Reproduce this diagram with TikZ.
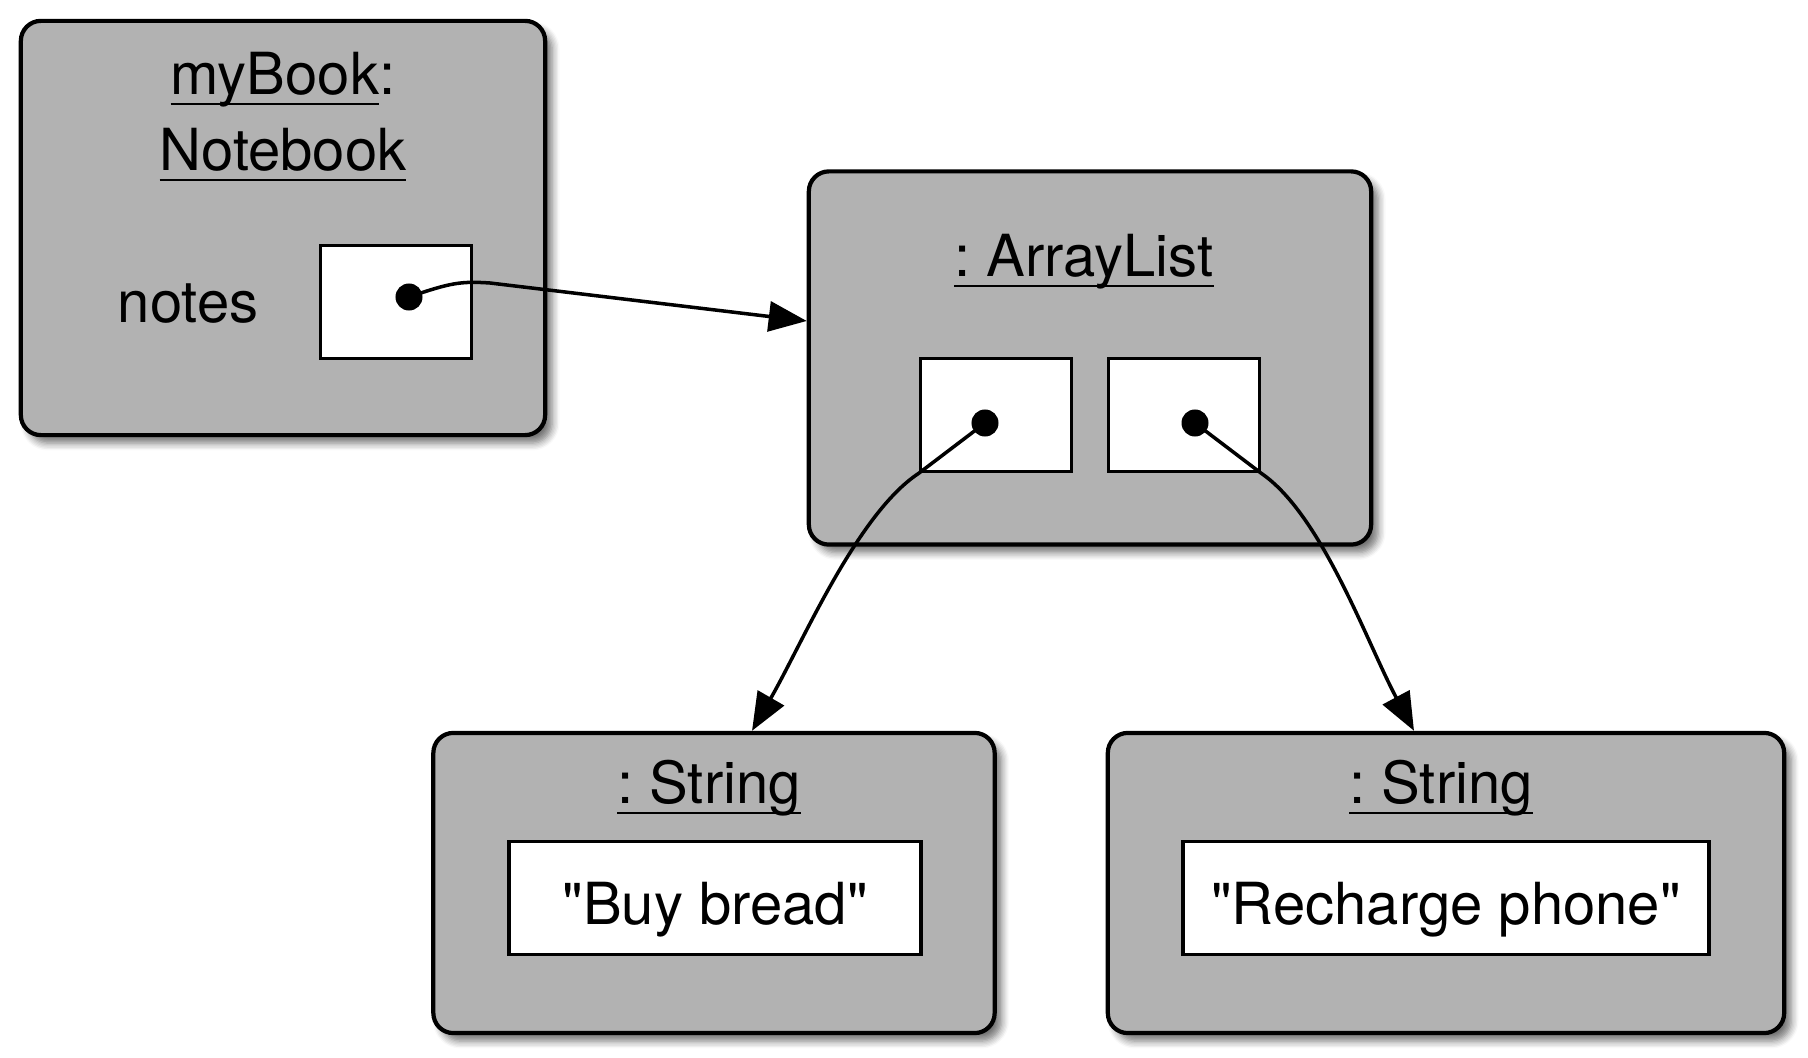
\documentclass[tikz,border=0pt]{standalone}
\usepackage{fontspec}
\setmainfont{TeX Gyre Heros}
\usetikzlibrary{arrows.meta,shadows.blur}
\newsavebox{\unamebox}
\newcommand{\uname}[1]{\sbox{\unamebox}{#1}\rlap{\vrule height -2.2pt depth 2.95pt width \wd\unamebox}\usebox{\unamebox}}
\frenchspacing

\begin{document}
\begin{tikzpicture}[x=0.01cm,y=-0.01cm,
    font=\fontsize{16.5}{20}\selectfont,
    obj/.style={draw,line width=1.2pt,rounded corners=0.2cm,fill=black!30,
        blur shadow={shadow xshift=0.07cm,shadow yshift=-0.08cm,shadow blur steps=6,shadow opacity=55}},
    slot/.style={draw,line width=1.1pt,fill=white,inner sep=0pt,minimum height=1.13cm,
        text height=0.53cm,text depth=0pt},
    dot/.style={circle,fill=black,inner sep=0pt,minimum size=0.27cm},
    ptr/.style={line width=1pt,-{Triangle[length=0.38cm,width=0.3cm]}}]
    \useasboundingbox (0,0) rectangle (1808,1058);
    % objects
    \node[obj,minimum width=5.24cm,minimum height=4.14cm] (nb) at (283,228) {};
    \node[obj,minimum width=5.62cm,minimum height=3.73cm] (al) at (1090,358) {};
    \node[obj,minimum width=5.61cm,minimum height=3cm] (s1) at (714,883) {};
    \node[obj,minimum width=6.76cm,minimum height=3cm] (s2) at (1446,883) {};
    % names
    \node[anchor=base] (nbname) at (283,95) {\uname{myBook}:};
    \node[anchor=base] (nbclass) at (283,171) {\uname{Notebook}};
    \node[anchor=base] (alname) at (1084,277) {\uname{: ArrayList}};
    \node[anchor=base] (s1name) at (709,804) {\uname{: String}};
    \node[anchor=base] (s2name) at (1441,804) {\uname{: String}};
    % fields
    \node[anchor=base] (notes) at (188,323) {notes};
    \node[slot,minimum width=1.51cm] (nf) at (396,302) {};
    \node[slot,minimum width=1.51cm] (sl) at (996,415) {};
    \node[slot,minimum width=1.51cm] (sr) at (1184,415) {};
    \node[slot,minimum width=4.12cm] (v1) at (715,898) {\textquotedbl Buy bread\textquotedbl};
    \node[slot,minimum width=5.26cm] (v2) at (1446,898) {\textquotedbl Recharge phone\textquotedbl};
    \node[dot] (d0) at (409,297) {};
    \node[dot] (d1) at (985,423) {};
    \node[dot] (d2) at (1195,423) {};
    % references
    \draw[ptr] (d0.center) .. controls (450,283) and (460,281) .. (490,283) -- ([yshift=0.37cm]al.west);
    \draw[ptr] (d1.center) -- (sl.south west) .. controls (857,514) and (802,644) .. ([xshift=0.38cm]s1.north);
    \draw[ptr] (d2.center) -- (sr.south east) .. controls (1322,515) and (1367,643) .. ([xshift=-0.32cm]s2.north);
\end{tikzpicture}
\end{document}
